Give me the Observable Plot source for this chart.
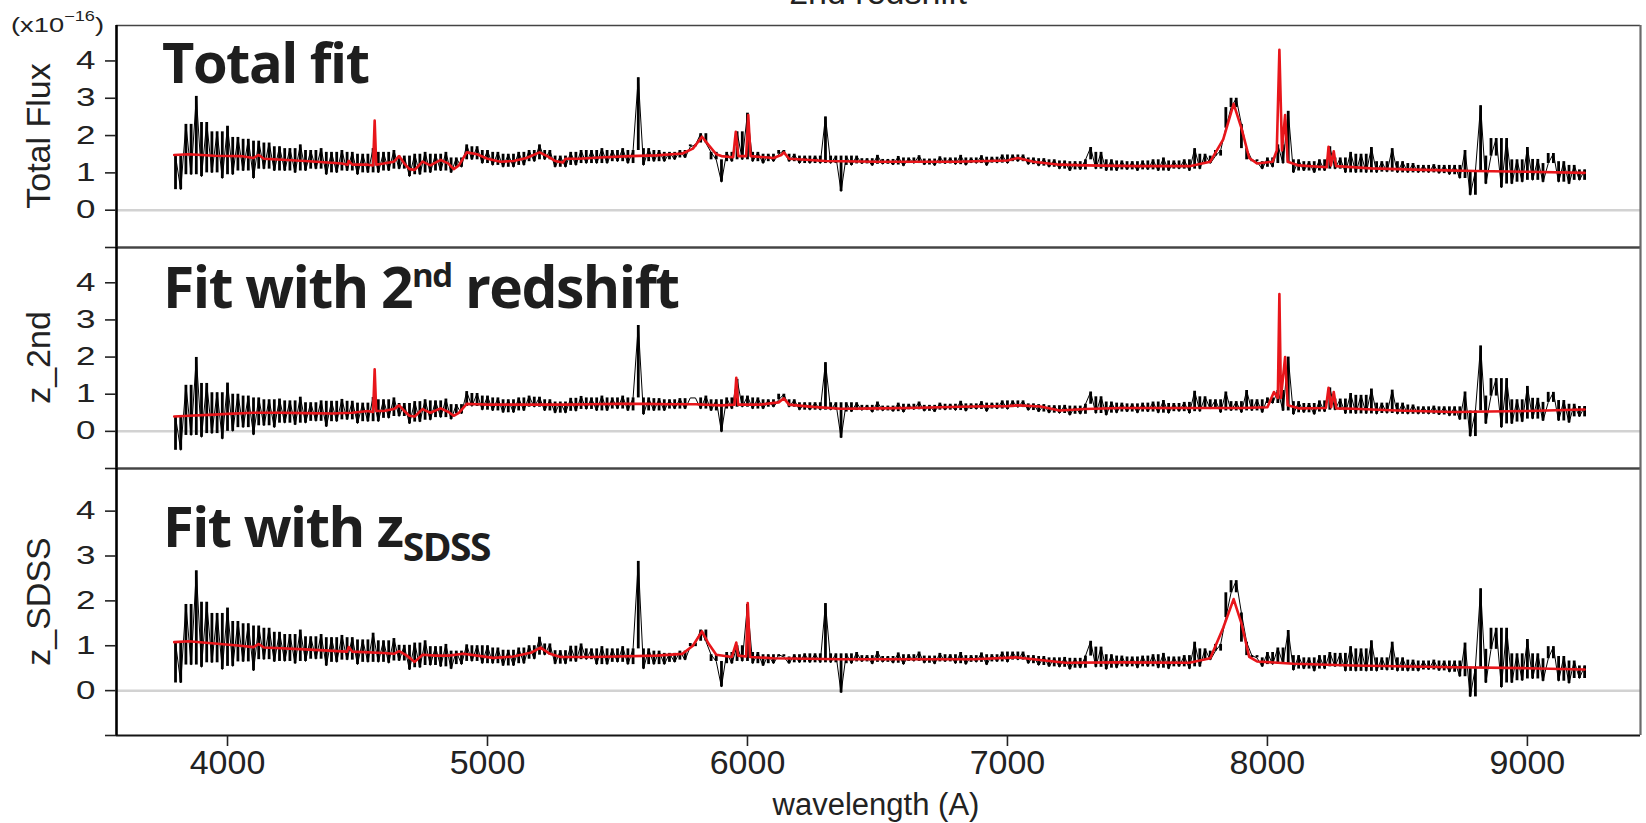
<!DOCTYPE html>
<html><head><meta charset="utf-8">
<script src="https://cdn.jsdelivr.net/npm/d3@7"></script>
<script src="https://cdn.jsdelivr.net/npm/@observablehq/plot@0.6"></script>
<style>
body{margin:0;background:#fff;}
#root{position:relative;width:1646px;height:823px;overflow:hidden;background:#fff;}
#root svg.plotsvg{position:absolute;left:0;}
#overlay{position:absolute;left:0;top:0;}
</style></head><body><div id="root"></div>
<script>
// wavelength sampling (Angstrom)
const wl = [
3800,3820,3840,3860,3880,3900,3920,3940,3960,3980,
4000,4020,4040,4060,4080,4100,4120,4140,4160,4180,
4200,4220,4240,4260,4280,4300,4320,4340,4360,4380,
4400,4420,4440,4460,4480,4500,4520,4540,4560,4580,
4600,4620,4640,4660,4680,4700,4720,4740,4760,4780,
4800,4820,4840,4860,4880,4900,4920,4940,4960,4980,
5000,5020,5040,5060,5080,5100,5120,5140,5160,5180,
5200,5220,5240,5260,5280,5300,5320,5340,5360,5380,
5400,5420,5440,5460,5480,5500,5520,5540,5560,5580,
5600,5620,5640,5660,5680,5700,5720,5740,5760,5780,
5800,5820,5840,5860,5880,5900,5920,5940,5960,5980,
6000,6020,6040,6060,6080,6100,6120,6140,6160,6180,
6200,6220,6240,6260,6280,6300,6320,6340,6360,6380,
6400,6420,6440,6460,6480,6500,6520,6540,6560,6580,
6600,6620,6640,6660,6680,6700,6720,6740,6760,6780,
6800,6820,6840,6860,6880,6900,6920,6940,6960,6980,
7000,7020,7040,7060,7080,7100,7120,7140,7160,7180,
7200,7220,7240,7260,7280,7300,7320,7340,7360,7380,
7400,7420,7440,7460,7480,7500,7520,7540,7560,7580,
7600,7620,7640,7660,7680,7700,7720,7740,7760,7780,
7800,7820,7840,7860,7880,7900,7920,7940,7960,7980,
8000,8020,8040,8060,8080,8100,8120,8140,8160,8180,
8200,8220,8240,8260,8280,8300,8320,8340,8360,8380,
8400,8420,8440,8460,8480,8500,8520,8540,8560,8580,
8600,8620,8640,8660,8680,8700,8720,8740,8760,8780,
8800,8820,8840,8860,8880,8900,8920,8940,8960,8980,
9000,9020,9040,9060,9080,9100,9120,9140,9160,9180,
9200,9220];

// observed flux (black), panel 1: total
const fluxTotal = [
1.45,0.55,2.30,0.95,3.05,0.90,2.35,1.00,2.10,0.85,
2.25,0.95,1.95,1.05,1.90,0.85,1.85,1.10,1.80,1.05,
1.70,1.05,1.65,1.00,1.75,1.05,1.60,1.10,1.65,0.95,
1.55,1.00,1.60,1.05,1.55,0.95,1.50,1.00,1.65,1.00,
1.55,1.05,1.60,1.10,1.45,0.90,1.50,0.95,1.55,1.00,
1.50,1.05,1.55,1.00,1.40,1.15,1.75,1.35,1.70,1.25,
1.60,1.20,1.55,1.15,1.50,1.15,1.55,1.20,1.60,1.30,
1.75,1.35,1.60,1.15,1.45,1.15,1.55,1.20,1.60,1.25,
1.60,1.25,1.65,1.25,1.60,1.30,1.65,1.25,1.60,3.55,
1.20,1.65,1.30,1.60,1.30,1.55,1.35,1.60,1.40,1.70,
1.75,2.05,1.80,1.55,1.35,0.75,1.55,1.30,2.10,1.35,
2.60,1.30,1.55,1.25,1.50,1.30,1.50,1.60,1.30,1.50,
1.25,1.45,1.25,1.45,1.25,2.50,1.25,1.45,0.50,1.45,
1.20,1.45,1.24,1.38,1.19,1.47,1.23,1.36,1.21,1.44,
1.18,1.40,1.25,1.46,1.21,1.37,1.19,1.43,1.24,1.40,
1.22,1.47,1.20,1.40,1.25,1.46,1.19,1.42,1.26,1.48,
1.25,1.48,1.30,1.48,1.22,1.40,1.18,1.38,1.15,1.35,
1.10,1.32,1.05,1.30,1.08,1.35,1.68,1.10,1.55,1.05,
1.35,1.05,1.32,1.08,1.30,1.05,1.32,1.08,1.35,1.05,
1.40,1.05,1.32,1.10,1.35,1.05,1.65,1.10,1.50,1.25,
1.45,1.60,2.20,2.75,3.00,2.30,1.65,1.35,1.30,1.10,
1.40,1.15,1.75,1.25,2.65,1.00,1.35,1.05,1.30,1.00,
1.35,1.05,1.70,1.10,1.40,1.00,1.55,1.00,1.50,1.00,
1.68,1.00,1.30,1.02,1.65,1.00,1.30,1.00,1.25,1.00,
1.20,1.00,1.22,0.98,1.20,0.95,1.20,0.85,1.60,0.40,
1.05,2.80,0.70,1.45,1.92,0.60,1.92,0.70,1.35,0.75,
1.68,0.80,1.36,0.75,1.25,1.52,0.75,1.30,0.70,1.20,
0.80,1.08];

// panel 2: z_2nd component
const fluxZ2nd = [
0.39,-0.51,1.24,-0.11,1.99,-0.16,1.29,-0.06,1.04,-0.21,
1.30,0.00,1.00,0.10,0.95,-0.10,0.90,0.15,0.85,0.10,
0.87,0.22,0.82,0.17,0.92,0.22,0.77,0.27,0.82,0.12,
0.81,0.26,0.86,0.31,0.81,0.21,0.76,0.26,0.91,0.26,
0.85,0.35,0.90,0.40,0.75,0.20,0.80,0.25,0.85,0.30,
0.82,0.37,0.87,0.32,0.72,0.47,1.07,0.67,1.02,0.57,
0.95,0.55,0.90,0.50,0.85,0.50,0.90,0.55,0.95,0.65,
0.92,0.55,0.85,0.49,0.79,0.49,0.89,0.54,0.94,0.59,
0.90,0.55,0.95,0.55,0.90,0.60,0.95,0.55,0.90,2.85,
0.45,0.90,0.55,0.88,0.55,0.85,0.60,0.88,0.60,0.90,
0.90,0.60,0.95,0.55,0.85,-0.02,0.90,0.60,1.40,0.65,
0.95,0.60,0.90,0.60,0.85,0.65,0.85,1.00,0.65,0.85,
0.57,0.77,0.57,0.77,0.57,1.85,0.57,0.77,-0.18,0.77,
0.52,0.77,0.56,0.70,0.51,0.79,0.55,0.68,0.53,0.76,
0.51,0.73,0.58,0.79,0.54,0.70,0.52,0.76,0.57,0.73,
0.56,0.81,0.54,0.74,0.59,0.80,0.53,0.76,0.60,0.82,
0.59,0.82,0.64,0.82,0.56,0.74,0.52,0.72,0.49,0.69,
0.48,0.70,0.43,0.68,0.46,0.73,1.06,0.48,0.93,0.43,
0.79,0.49,0.76,0.52,0.74,0.49,0.76,0.52,0.79,0.49,
0.83,0.48,0.75,0.53,0.78,0.48,1.08,0.53,0.93,0.60,
0.85,0.50,1.06,0.55,0.80,0.50,1.10,0.55,0.85,0.50,
0.90,0.75,1.10,0.55,2.00,0.45,0.80,0.50,0.75,0.45,
0.82,0.52,1.17,0.57,0.87,0.47,1.02,0.47,0.97,0.47,
1.14,0.46,0.76,0.48,1.11,0.46,0.76,0.46,0.71,0.46,
0.66,0.46,0.68,0.44,0.66,0.41,0.66,0.31,1.06,-0.14,
0.55,2.30,0.20,0.95,1.42,0.10,1.42,0.20,0.85,0.25,
1.21,0.33,0.89,0.28,0.78,1.05,0.28,0.83,0.23,0.73,
0.39,0.67];

// panel 3: z_SDSS component
const fluxZSDSS = [
1.07,0.17,1.92,0.57,2.67,0.52,1.97,0.62,1.72,0.47,
1.84,0.54,1.54,0.64,1.49,0.44,1.44,0.69,1.39,0.64,
1.30,0.65,1.25,0.60,1.35,0.65,1.20,0.70,1.25,0.55,
1.18,0.63,1.23,0.68,1.18,0.58,1.13,0.63,1.28,0.63,
1.11,0.61,1.16,0.66,1.01,0.46,1.06,0.51,1.11,0.56,
0.98,0.53,1.03,0.48,0.88,0.58,1.02,0.65,1.00,0.60,
1.00,0.60,0.95,0.55,0.90,0.55,0.95,0.60,1.00,0.70,
1.19,0.79,1.04,0.59,0.89,0.59,0.99,0.64,1.04,0.69,
0.93,0.58,0.98,0.58,0.93,0.63,0.98,0.58,0.93,2.88,
0.48,0.93,0.58,0.88,0.58,0.83,0.63,0.88,0.68,0.98,
1.05,1.35,1.10,0.80,0.65,0.08,0.85,0.60,1.00,0.65,
1.92,0.60,0.85,0.55,0.80,0.60,0.80,0.75,0.60,0.80,
0.62,0.82,0.62,0.82,0.62,1.94,0.62,0.82,-0.05,0.82,
0.60,0.85,0.64,0.78,0.59,0.87,0.63,0.76,0.61,0.84,
0.58,0.80,0.65,0.86,0.61,0.77,0.59,0.83,0.64,0.80,
0.60,0.85,0.58,0.78,0.63,0.84,0.57,0.80,0.64,0.86,
0.63,0.86,0.68,0.86,0.60,0.78,0.56,0.76,0.53,0.73,
0.52,0.74,0.47,0.72,0.50,0.77,1.10,0.52,0.97,0.47,
0.80,0.50,0.77,0.53,0.75,0.50,0.77,0.53,0.80,0.50,
0.83,0.48,0.75,0.53,0.78,0.48,1.08,0.53,0.93,0.68,
0.88,1.03,1.63,2.18,2.45,1.73,1.08,0.78,0.73,0.53,
0.85,0.58,0.95,0.60,1.34,0.45,0.78,0.48,0.73,0.43,
0.78,0.48,0.85,0.53,0.83,0.43,0.98,0.43,0.93,0.43,
1.11,0.43,0.73,0.45,1.08,0.43,0.73,0.43,0.68,0.43,
0.66,0.46,0.68,0.44,0.66,0.41,0.66,0.31,1.06,-0.14,
0.52,2.27,0.17,0.92,1.39,0.07,1.39,0.17,0.82,0.22,
1.14,0.26,0.82,0.21,0.71,0.98,0.21,0.76,0.16,0.66,
0.27,0.55];

// model fits (red)
const fitTotalW = [3795,3850,3950,4050,4100,4120,4140,4300,4440,4462,4466,4480,4540,4560,4566,4572,4600,4640,4660,4680,4700,4720,4750,4780,4820,4850,4870,4890,4920,4960,5000,5050,5100,5150,5200,5230,5260,5290,5300,5350,5450,5550,5650,5750,5790,5825,5850,5880,5900,5945,5955,5965,5995,6003,6012,6100,6130,6140,6160,6300,6500,6800,7000,7040,7100,7200,7300,7500,7700,7780,7830,7870,7900,7930,7960,8020,8036,8046,8056,8068,8078,8120,8228,8235,8244,8255,8264,8400,8600,8800,9000,9220];
const fitTotalF = [1.48,1.50,1.46,1.45,1.40,1.48,1.38,1.32,1.25,1.22,1.32,1.22,1.22,1.20,2.40,1.22,1.25,1.30,1.45,1.25,1.10,1.08,1.30,1.20,1.35,1.25,1.10,1.20,1.55,1.50,1.38,1.30,1.32,1.40,1.55,1.45,1.32,1.28,1.38,1.38,1.42,1.45,1.47,1.52,1.65,1.97,1.75,1.50,1.45,1.42,2.10,1.45,1.45,2.55,1.45,1.40,1.48,1.55,1.38,1.32,1.30,1.30,1.33,1.40,1.30,1.22,1.20,1.18,1.18,1.30,1.90,2.85,2.20,1.40,1.25,1.30,1.60,4.30,1.60,2.55,1.30,1.20,1.15,1.70,1.20,1.58,1.18,1.12,1.08,1.05,1.03,1.00];

const fitZ2ndW = [3795,3850,3950,4000,4100,4200,4300,4400,4480,4540,4560,4566,4572,4600,4640,4660,4680,4700,4720,4750,4780,4820,4850,4870,4890,4920,4960,5000,5100,5200,5300,5400,5500,5600,5700,5800,5900,5950,5957,5964,6050,6120,6140,6160,6250,6360,6500,6614,6870,7000,7040,7127,7200,7300,7435,7700,7900,8000,8025,8040,8046,8052,8068,8078,8120,8225,8235,8245,8255,8265,8332,8500,8716,9000,9220];
const fitZ2ndF = [0.40,0.42,0.45,0.47,0.50,0.50,0.49,0.48,0.50,0.55,0.52,1.67,0.55,0.55,0.60,0.70,0.55,0.42,0.40,0.60,0.50,0.62,0.52,0.42,0.50,0.74,0.73,0.72,0.72,0.72,0.72,0.73,0.74,0.74,0.73,0.73,0.70,0.72,1.44,0.72,0.72,0.78,0.89,0.72,0.66,0.61,0.62,0.63,0.67,0.68,0.70,0.67,0.56,0.60,0.63,0.63,0.63,0.65,1.06,0.90,3.70,0.90,2.00,0.70,0.62,0.63,1.17,0.65,1.06,0.62,0.61,0.56,0.52,0.55,0.59];

const fitZSDSSW = [3795,3850,3950,4050,4100,4120,4140,4300,4460,4466,4480,4600,4640,4660,4690,4720,4750,4800,4850,4908,4960,5023,5100,5170,5204,5240,5281,5400,5500,5650,5750,5790,5825,5850,5880,5940,5957,5964,5995,6001,6010,6100,6360,6870,7037,7100,7223,7435,7700,7780,7830,7870,7900,7930,7960,8100,8332,8716,9000,9220];
const fitZSDSSF = [1.08,1.10,1.05,1.00,0.97,1.04,0.96,0.92,0.87,0.97,0.87,0.84,0.82,0.88,0.78,0.64,0.80,0.78,0.78,0.82,0.78,0.73,0.76,0.85,0.96,0.82,0.75,0.75,0.76,0.78,0.82,1.00,1.32,1.05,0.80,0.75,1.07,0.78,0.76,1.95,0.75,0.72,0.70,0.70,0.74,0.70,0.62,0.63,0.62,0.72,1.40,2.04,1.50,0.75,0.65,0.60,0.56,0.52,0.50,0.47];

const xTicks = [4000,5000,6000,7000,8000,9000];
const yTicks = [-1,0,1,2,3,4];
const panelNames = ["Total Flux","z_2nd","z_SDSS"];

const xDomain = [3573, 9435];
const yDomain = [-1, 4.95];
const FONT = "'Liberation Sans', Arial, Helvetica, sans-serif";

// each sample drawn as a vertical stroke from its value back toward the neighbouring band
function strokeEnd(flux, i) {
  const f = flux[i];
  const p = i > 0 ? flux[i - 1] : flux[i + 1];
  const n = i + 1 < flux.length ? flux[i + 1] : flux[i - 1];
  if (f >= p && f >= n) return Math.max(p, n);
  if (f <= p && f <= n) return Math.min(p, n);
  return Math.abs(f - p) < Math.abs(f - n) ? p : n;
}

function makePanel(flux, fitW, fitF, cfg) {
  const black = wl.map((w, i) => ({w, f: flux[i], f2: strokeEnd(flux, i)}));
  const red = fitW.map((w, i) => ({w, f: fitF[i]}));
  const marks = [
    Plot.ruleY([0], {stroke: "#d2d2d2", strokeWidth: 2.5}),
    Plot.ruleX(black, {x: "w", y1: "f", y2: "f2", stroke: "#000", strokeWidth: 2.8}),
    Plot.line(black, {x: "w", y: "f", stroke: "#000", strokeWidth: 1.0}),
    Plot.line(red, {x: "w", y: "f", stroke: "#e8161b", strokeWidth: 2.6}),
    Plot.ruleY([yDomain[1]], {stroke: "#444", strokeWidth: 1.6}),
    Plot.ruleY([-1], {stroke: "#151515", strokeWidth: 2.2}),
    Plot.ruleX([xDomain[1]], {stroke: "#6a6a6a", strokeWidth: 2.2}),
    Plot.ruleX([xDomain[0]], {stroke: "#000", strokeWidth: 2.6}),
    Plot.axisY(yTicks, {anchor: "left", tickSize: 11, tickPadding: 10, fontSize: 25, stroke: "#222", strokeWidth: 1.6, fill: "#222",
      tickFormat: d => d < 0 ? "" : String(d), label: null})
  ];
  if (cfg.showX) {
    marks.push(Plot.axisX(xTicks, {anchor: "bottom", tickSize: 11, tickPadding: 3, fontSize: 34, stroke: "#222", strokeWidth: 1.6, fill: "#222",
      tickFormat: d => String(d), label: null}));
  }
  const svg = Plot.plot({
    width: 1646, height: cfg.height,
    marginLeft: 116, marginRight: 6, marginTop: cfg.mt, marginBottom: cfg.mb,
    x: {domain: xDomain, axis: cfg.showX ? undefined : null},
    y: {domain: yDomain},
    style: {fontFamily: FONT, background: "transparent", overflow: "visible"},
    marks
  });
  svg.classList.add("plotsvg");
  svg.style.top = cfg.top + "px";
  return svg;
}

const root = document.getElementById("root");
const svgs = [
  makePanel(fluxTotal, fitTotalW, fitTotalF, {top: 0, height: 257, mt: 25, mb: 10, showX: false}),
  makePanel(fluxZ2nd, fitZ2ndW, fitZ2ndF, {top: 237, height: 241, mt: 10, mb: 10, showX: false}),
  makePanel(fluxZSDSS, fitZSDSSW, fitZSDSSF, {top: 458, height: 365, mt: 10, mb: 88, showX: true})
];
svgs.forEach(s => root.appendChild(s));

// widen the y tick labels horizontally (as in the reference), anchored at their right edge
function stretchYTicks(svg, sx) {
  const sr = svg.getBoundingClientRect();
  svg.querySelectorAll('[aria-label="y-axis tick label"] text').forEach(t => {
    const r = t.getBoundingClientRect();
    const pm = t.parentNode.getCTM();
    const rx = r.right - sr.left - (pm ? pm.e : 0);
    const old = t.getAttribute("transform") || "";
    t.setAttribute("transform", `translate(${rx},0) scale(${sx},1) translate(${-rx},0) ${old}`);
  });
}
svgs.forEach(s => stretchYTicks(s, 1.4));

// overlay text
const NS = "http://www.w3.org/2000/svg";
const ov = document.createElementNS(NS, "svg");
ov.setAttribute("id", "overlay");
ov.setAttribute("width", 1646); ov.setAttribute("height", 823);
ov.innerHTML = `
<g font-family="${FONT}" fill="#222">
  <text x="878" y="4" font-size="34" text-anchor="middle">2nd redshift</text>
  <g transform="translate(11,32) scale(1.3,1)"><text x="0" y="0" font-size="21">(x10<tspan font-size="14" dy="-11">−16</tspan><tspan dy="11" font-size="21">)</tspan></text></g>
  <text transform="translate(50,136) rotate(-90)" font-size="34" text-anchor="middle">${panelNames[0]}</text>
  <text transform="translate(50,357.5) rotate(-90)" font-size="34" text-anchor="middle">${panelNames[1]}</text>
  <text transform="translate(50,601.5) rotate(-90)" font-size="34" text-anchor="middle">${panelNames[2]}</text>
  <text x="876" y="815" font-size="31" text-anchor="middle">wavelength (A)</text>
</g>
<g font-family="'Open Sans', 'Noto Sans', sans-serif" font-weight="700" fill="#1e1e1e" letter-spacing="-1.5">
  <text x="162" y="83" font-size="56">Total fit</text>
  <text x="163" y="308" font-size="57">Fit with 2<tspan font-size="33" dy="-21">nd</tspan><tspan dy="21"> redshift</tspan></text>
  <text x="163" y="547" font-size="56">Fit with z<tspan font-size="39" dy="14">SDSS</tspan></text>
</g>`;
root.appendChild(ov);
</script></body></html>
